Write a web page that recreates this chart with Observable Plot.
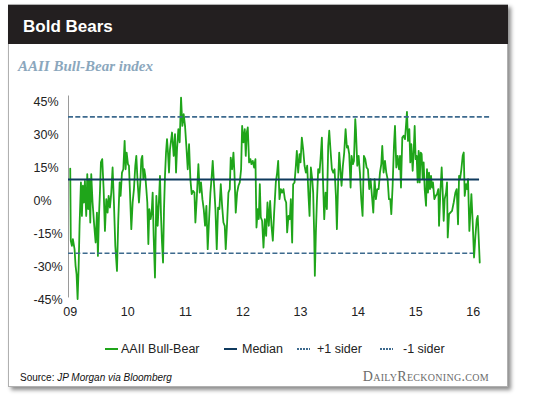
<!DOCTYPE html>
<html>
<head>
<meta charset="utf-8">
<script src="https://cdn.jsdelivr.net/npm/d3@7"></script>
<script src="https://cdn.jsdelivr.net/npm/@observablehq/plot@0.6"></script>
<style>
  html, body { margin: 0; padding: 0; background: #fff; }
  body { width: 540px; height: 399px; position: relative; overflow: hidden; font-family: "Liberation Sans", Arial, sans-serif; color: #222; }
  #card { position: absolute; left: 8px; top: 4px; width: 498px; height: 381px; background: #fff; border: 1px solid #b0b0b0; box-shadow: 3px 3px 4px rgba(0,0,0,0.45); }
  #bar { position: absolute; left: 8px; top: 5px; width: 500px; height: 39px; background: #231f20; }
  #title { position: absolute; left: 23px; top: 18px; font: bold 17px/17px "Liberation Sans", Arial, sans-serif; color: #fff; white-space: nowrap; }
  #subtitle { position: absolute; left: 18px; top: 59px; font: italic bold 15px/15px "Liberation Serif", "Times New Roman", serif; color: #8ba7bd; white-space: nowrap; }
  #chart { position: absolute; left: 0; top: 85px; }
  .leg { position: absolute; top: 343px; font: 12.5px/13px "Liberation Sans", Arial, sans-serif; color: #222; white-space: nowrap; }
  .sw { position: absolute; top: 347px; }
  #source { position: absolute; left: 20px; top: 373px; font: 10px/10px "Liberation Sans", Arial, sans-serif; color: #111; white-space: nowrap; }
  #brand { position: absolute; right: 51px; top: 370px; font: 14px/14px "Liberation Serif", "Times New Roman", serif; font-variant: small-caps; color: #6b6b6b; white-space: nowrap; letter-spacing: 0.3px; }
</style>
</head>
<body>
<div id="card"></div>
<div id="bar"></div>
<div id="title">Bold Bears</div>
<div id="subtitle">AAII Bull-Bear index</div>
<div id="chart"></div>
<div id="legend"></div>
<div id="source">Source: <i>JP Morgan via Bloomberg</i></div>
<div id="brand">DailyReckoning.com</div>
<script>
// ---- Data (decimal years, AAII bull minus bear spread in %) ----
const dates = [
  2009.000, 2009.010, 2009.029, 2009.046, 2009.075, 2009.093, 2009.110, 2009.128, 2009.145, 2009.162,
  2009.186, 2009.203, 2009.220, 2009.238, 2009.255, 2009.278, 2009.296, 2009.313, 2009.330, 2009.348,
  2009.365, 2009.388, 2009.417, 2009.441, 2009.464, 2009.481, 2009.499, 2009.516, 2009.533, 2009.556,
  2009.580, 2009.603, 2009.626, 2009.649, 2009.667, 2009.690, 2009.713, 2009.736, 2009.759, 2009.783,
  2009.812, 2009.835, 2009.858, 2009.875, 2009.899, 2009.922, 2009.945, 2009.962, 2009.980, 2010.003,
  2010.020, 2010.038, 2010.061, 2010.084, 2010.107, 2010.130, 2010.148, 2010.171, 2010.194, 2010.217,
  2010.235, 2010.252, 2010.270, 2010.287, 2010.304, 2010.322, 2010.339, 2010.357, 2010.374, 2010.397,
  2010.415, 2010.432, 2010.449, 2010.472, 2010.496, 2010.519, 2010.542, 2010.559, 2010.577, 2010.594,
  2010.612, 2010.629, 2010.646, 2010.664, 2010.681, 2010.698, 2010.716, 2010.733,
  2010.768, 2010.797, 2010.820, 2010.838, 2010.855, 2010.878, 2010.901, 2010.925, 2010.948, 2010.971,
  2010.994, 2011.017, 2011.041, 2011.064, 2011.087, 2011.110, 2011.133, 2011.157, 2011.174, 2011.197,
  2011.226, 2011.249, 2011.272, 2011.296, 2011.319, 2011.342, 2011.365, 2011.388, 2011.412, 2011.435,
  2011.458, 2011.475, 2011.499, 2011.522, 2011.545, 2011.568, 2011.591, 2011.615, 2011.638, 2011.661,
  2011.684, 2011.701, 2011.725, 2011.748, 2011.771, 2011.788, 2011.812, 2011.835, 2011.852, 2011.875,
  2011.899, 2011.922, 2011.945, 2011.968, 2011.986, 2012.009, 2012.032, 2012.049, 2012.067, 2012.084,
  2012.107, 2012.130, 2012.148, 2012.171, 2012.194, 2012.217, 2012.235, 2012.258, 2012.275, 2012.293,
  2012.310, 2012.333, 2012.357, 2012.380, 2012.403, 2012.426, 2012.449, 2012.472, 2012.496, 2012.519,
  2012.542,
  2012.571, 2012.594, 2012.612, 2012.635, 2012.658, 2012.681, 2012.704, 2012.728, 2012.751, 2012.768,
  2012.791, 2012.814, 2012.832, 2012.855, 2012.872, 2012.896, 2012.919, 2012.936, 2012.959, 2012.983,
  2013.000, 2013.023, 2013.046, 2013.070, 2013.093, 2013.116, 2013.139, 2013.157, 2013.180, 2013.203,
  2013.220, 2013.238, 2013.249, 2013.267, 2013.284, 2013.307, 2013.330, 2013.348, 2013.371, 2013.388,
  2013.412, 2013.435, 2013.458, 2013.481, 2013.499, 2013.522, 2013.545, 2013.568, 2013.591, 2013.615,
  2013.632, 2013.655, 2013.672, 2013.696, 2013.713, 2013.736, 2013.759, 2013.783, 2013.806, 2013.823,
  2013.846, 2013.870, 2013.887, 2013.910, 2013.928, 2013.951, 2013.962, 2013.986, 2014.009, 2014.032,
  2014.055, 2014.078, 2014.101, 2014.125, 2014.148, 2014.171, 2014.194, 2014.217, 2014.241, 2014.264,
  2014.287, 2014.310, 2014.333,
  2014.357, 2014.380, 2014.403, 2014.420, 2014.443, 2014.467, 2014.490, 2014.513, 2014.536, 2014.559,
  2014.577, 2014.600, 2014.623, 2014.641, 2014.664, 2014.687, 2014.710, 2014.728, 2014.745, 2014.768,
  2014.791, 2014.815, 2014.832, 2014.849, 2014.867, 2014.890, 2014.907, 2014.925, 2014.948, 2014.965,
  2014.983, 2015.000, 2015.017, 2015.035, 2015.052, 2015.070, 2015.087, 2015.104, 2015.122, 2015.139,
  2015.157, 2015.180, 2015.197, 2015.214, 2015.232, 2015.249, 2015.267, 2015.284, 2015.301, 2015.325,
  2015.348, 2015.371, 2015.394, 2015.406, 2015.429, 2015.452, 2015.470, 2015.487, 2015.504, 2015.528,
  2015.545, 2015.557, 2015.580, 2015.603, 2015.632, 2015.661, 2015.690, 2015.713, 2015.736, 2015.754,
  2015.771, 2015.794, 2015.817, 2015.835, 2015.852, 2015.875, 2015.893, 2015.910, 2015.933, 2015.951,
  2015.968, 2015.991, 2016.014, 2016.038, 2016.061, 2016.078, 2016.096, 2016.113
];
const spread = [
  14.5, -18.3, -20.6, -17.6, -22.1, -29.7, -33.5, -44.8, -31.2, -11.5,
  8.2, -7.0, 6.7, -0.9, 8.9, -7.0, 12.0, -3.9, 9.7, -10.0,
  12.0, -0.9, -11.5, -19.1, -5.5, -25.2, -7.0, 3.6, 17.3, 18.8,
  5.2, -13.8, 0.6, -5.5, 2.1, -3.2, 3.6, 15.0, -0.9, -20.6,
  -32.0, -8.5, 8.2, 2.1, 12.7, 14.2, 27.1, 14.2, 21.8, 16.5,
  15.8, 3.6, -13.0, -0.9, 5.2, 15.8, 20.3, 8.2, -0.9, 8.2,
  18.8, 20.3, 9.7, 14.2, 11.2, 5.2, -0.9, -19.8, -3.9, -8.5,
  -5.5, 3.6, -16.1, -35.0, 2.1, -11.5, 0.6, 11.2, -7.0, -19.1,
  -28.2, -3.9, 11.2, 21.8, 27.9, 21.8, 12.7, 23.3,
  30.9, 20.3, 30.2, 12.7, 23.3, 32.4, 26.4, 46.8, 33.9, 39.2,
  33.9, 24.8, 14.2, 25.6, 9.7, 2.9, 4.4, 3.6, -10.0, 0.6,
  16.5, 3.6, 8.2, 0.6, -3.9, -11.5, -2.4, -22.1, -8.5, 3.6,
  11.2, 18.0, 6.7, -3.9, -22.1, -3.2, -3.9, 7.4, -2.4, -10.0,
  -11.5, -22.1, -10.0, 3.6, 5.2, 19.5, 14.2, 21.8, 12.7, -5.5,
  3.6, 6.7, 8.2, 14.2, 33.9, 26.4, 32.4, 20.3, 30.9, 33.2,
  17.3, 18.8, 16.5, 18.0, 15.0, 18.8, -12.3, -3.9, -8.5, 7.4,
  -7.7, -9.2, -21.4, -8.5, -16.1, -0.9, -11.5, -0.2, -11.5, -18.3,
  -5.5,
  8.2, 12.7, 18.0, 0.6, 5.2, 3.6, 5.2, 0.6, -0.9, -14.5,
  -7.0, -8.5, 0.6, -19.1, 7.4, 8.2, 15.8, 22.6, 12.7, 21.1,
  17.3, 28.6, 23.3, 15.8, 12.7, 15.8, 2.1, -7.0, 15.0, 9.7,
  3.6, -16.1, -34.2, -14.5, -0.9, 14.2, 12.7, 18.8, 28.6, 11.2,
  -8.5, 3.6, -3.9, 24.8, 31.7, 22.6, 14.2, 12.7, 14.2, 2.1,
  -13.0, 9.7, 21.8, 12.7, 6.7, 15.8, 21.8, 32.4, 24.1, 24.8,
  21.1, 5.9, 20.3, 16.5, 18.0, 37.0, 32.4, 15.8, 20.3, 12.7,
  0.6, -7.0, 20.3, 18.8, 15.0, 14.2, 5.2, 9.7, 2.1, -5.5,
  9.7, 0.6, 5.2,
  5.2, 12.7, 16.5, 24.8, 12.7, 18.0, 12.7, 9.7, 0.6, 0.6,
  -6.2, 6.7, 24.8, 33.9, 15.0, 20.3, 14.2, 20.3, 5.9, 28.6,
  29.4, 27.9, 33.9, 40.3, 27.1, 32.4, 17.3, 25.6, 13.5, 21.8,
  33.9, 18.8, 20.3, 8.2, 22.6, 8.2, 21.8, 21.1, 9.7, 17.3,
  5.2, -2.4, 14.2, 3.6, 12.7, 5.2, 11.2, 5.9, 8.2, 0.6,
  2.1, 2.9, 5.2, -11.5, 3.6, 15.0, 3.6, -9.2, 0.6, 3.6,
  8.2, -16.8, -6.2, -5.5, -4.7, -0.9, 3.6, 5.2, -10.8, 11.2,
  9.7, 14.2, 20.3, 21.8, 2.1, 7.4, 5.2, 9.7, -13.8, -5.5,
  2.9, -10.0, -25.9, -16.1, -8.5, -7.0, -17.6, -28.2
];
const medianValue = 9.5;
const plusSider = 38;
const minusSider = -24;
const yTicks = [-45, -30, -15, 0, 15, 30, 45];
const xTicks = [2009, 2010, 2011, 2012, 2013, 2014, 2015, 2016];
const xTickLabels = ["09", "10", "11", "12", "13", "14", "15", "16"];
const seriesNames = ["AAII Bull-Bear", "Median", "+1 sider", "-1 sider"];
const xStart = 2008.97, xEnd = 2016.30;
const medianEnd = 2016.11, minusEnd = 2016.01;

const colGreen = "#1fa51a", colMedian = "#0f3a5e", colDash = "#3d6a8e";

const data = dates.map((d, i) => ({ x: d, v: spread[i] }));

const chart = Plot.plot({
  width: 540,
  height: 240,
  marginLeft: 68,
  marginRight: 50,
  marginTop: 16,
  marginBottom: 26,
  style: { fontFamily: "'Liberation Sans', Arial, sans-serif", fontSize: "12.5px", color: "#222", background: "transparent", overflow: "visible" },
  x: { type: "linear", domain: [xStart, xEnd] },
  y: { domain: [-45, 45] },
  marks: [
    Plot.ruleX([xStart], { y1: -44.3, y2: 47.5, stroke: "#9a9a9a", strokeWidth: 1 }),
    Plot.line(data, { x: "x", y: "v", stroke: colGreen, strokeWidth: 1.8, strokeLinejoin: "round" }),
    Plot.ruleY([plusSider], { x1: xStart, x2: xEnd, stroke: colDash, strokeWidth: 1.6, strokeDasharray: "5,2.3" }),
    Plot.ruleY([minusSider], { x1: xStart, x2: minusEnd, stroke: colDash, strokeWidth: 1.6, strokeDasharray: "5,2.3" }),
    Plot.ruleY([medianValue], { x1: xStart, x2: medianEnd, stroke: colMedian, strokeWidth: 2 }),
    Plot.axisY(yTicks, { tickSize: 0, tickPadding: 35, textAnchor: "start", tickFormat: d => d + "%", label: null }),
    Plot.axisX(xTicks, { tickSize: 0, tickPadding: 8, tickFormat: (d, i) => xTickLabels[xTicks.indexOf(d)], label: null })
  ]
});
document.getElementById("chart").appendChild(chart);

// ---- Legend ----
const legend = document.getElementById("legend");
const legItems = [
  { name: seriesNames[0], color: colGreen, dash: null, sx: 105, tx: 121 },
  { name: seriesNames[1], color: colMedian, dash: null, sx: 224, tx: 242 },
  { name: seriesNames[2], color: colDash, dash: "2,1", sx: 297, tx: 317 },
  { name: seriesNames[3], color: colDash, dash: "2,1", sx: 380, tx: 403 }
];
legItems.forEach(it => {
  const sw = document.createElementNS("http://www.w3.org/2000/svg", "svg");
  sw.setAttribute("width", 13); sw.setAttribute("height", 4);
  sw.setAttribute("class", "sw");
  sw.style.left = it.sx + "px";
  const ln = document.createElementNS("http://www.w3.org/2000/svg", "line");
  ln.setAttribute("x1", 0); ln.setAttribute("x2", 13); ln.setAttribute("y1", 2); ln.setAttribute("y2", 2);
  ln.setAttribute("stroke", it.color); ln.setAttribute("stroke-width", 2);
  if (it.dash) ln.setAttribute("stroke-dasharray", it.dash);
  sw.appendChild(ln);
  legend.appendChild(sw);
  const t = document.createElement("div");
  t.className = "leg"; t.style.left = it.tx + "px"; t.textContent = it.name;
  legend.appendChild(t);
});
</script>
</body>
</html>
